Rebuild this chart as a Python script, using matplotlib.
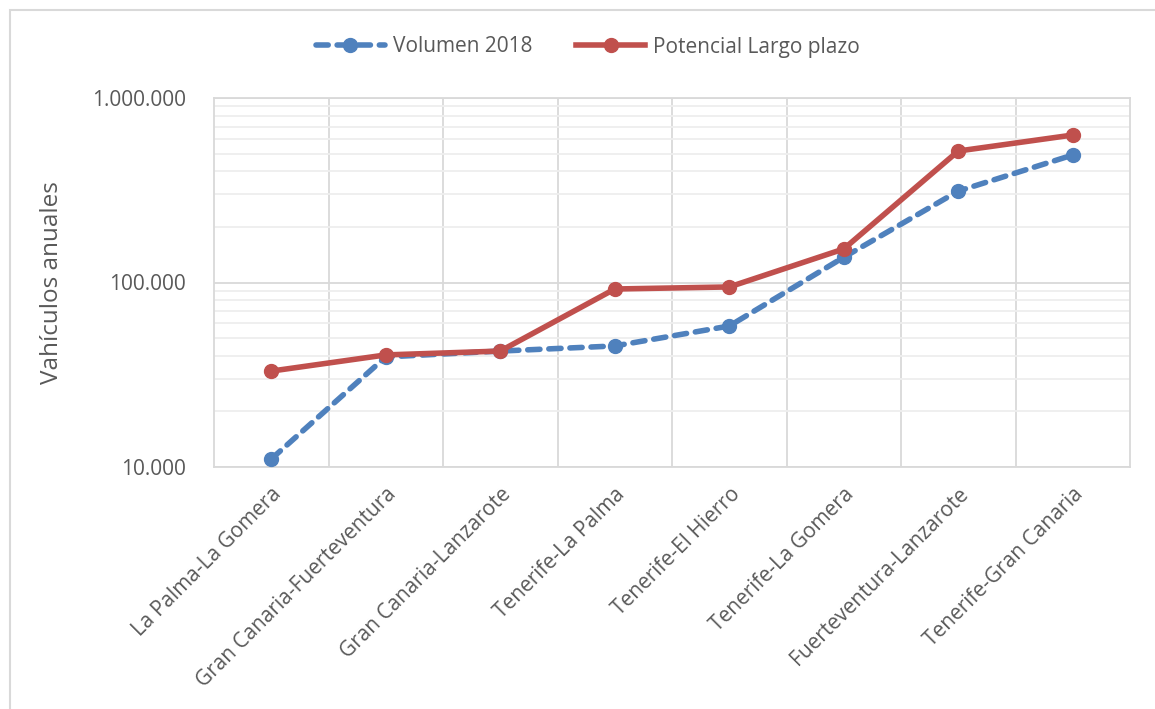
import matplotlib
matplotlib.use("Agg")
import matplotlib.pyplot as plt
from matplotlib.ticker import FixedLocator, FuncFormatter, LogLocator, NullFormatter
from matplotlib.patches import Rectangle

categories = ["La Palma-La Gomera", "Gran Canaria-Fuerteventura", "Gran Canaria-Lanzarote",
              "Tenerife-La Palma", "Tenerife-El Hierro", "Tenerife-La Gomera",
              "Fuerteventura-Lanzarote", "Tenerife-Gran Canaria"]
volumen_2018 = [11050, 39500, 42500, 45300, 58100, 137000, 313000, 491000]
potencial = [33100, 40500, 42500, 92200, 94600, 152000, 516000, 630000]
y_ticks = [10000, 100000, 1000000]
y_tick_labels = ["10.000", "100.000", "1.000.000"]

plt.rcParams['font.family'] = ['Open Sans', 'DejaVu Sans']
txt = '#595959'

fig = plt.figure(figsize=(11.55, 7.09), dpi=100)
ax = fig.add_axes([214/1155, 1-467/709, (1130-214)/1155, (467-98)/709])

x = list(range(len(categories)))
ax.plot(x, volumen_2018, color='#4F81BD', lw=4, ls=(0, (2.2, 1.6)), marker='o', ms=10,
        label='Volumen 2018', zorder=3, dash_capstyle='round')
ax.plot(x, potencial, color='#C0504D', lw=4, marker='o', ms=10,
        label='Potencial Largo plazo', zorder=4)

ax.set_yscale('log')
ax.set_ylim(10000, 1000000)
ax.set_xlim(-0.5, len(categories) - 0.5)
ax.yaxis.set_major_locator(FixedLocator(y_ticks))
ax.yaxis.set_major_formatter(FuncFormatter(lambda v, p: y_tick_labels[y_ticks.index(round(v))] if round(v) in y_ticks else ""))
ax.yaxis.set_minor_locator(LogLocator(base=10, subs=range(2, 10)))
ax.yaxis.set_minor_formatter(NullFormatter())
ax.set_xticks(x)
ax.set_xticklabels(categories, rotation=45, ha='right', va='top', rotation_mode='anchor',
                   fontsize=15, color=txt)
ax.set_xticks([i + 0.5 for i in x[:-1]], minor=True)

ax.tick_params(axis='both', which='both', length=0)
ax.tick_params(axis='y', labelsize=15, labelcolor=txt, pad=20)
ax.tick_params(axis='x', pad=12)

ax.grid(True, which='major', axis='y', color='#D9D9D9', lw=1.3)
ax.grid(True, which='minor', axis='y', color='#EEEEEE', lw=1.3)
ax.grid(True, which='minor', axis='x', color='#D9D9D9', lw=1.3)
ax.set_axisbelow(True)
for s in ax.spines.values():
    s.set_color('#D9D9D9')
    s.set_linewidth(1.3)

ax.set_ylabel('Vahículos anuales', fontsize=17.5, color=txt, labelpad=20)

leg = fig.legend(loc='center', bbox_to_anchor=(588/1155, 1-47/709), ncol=2, frameon=False,
                 fontsize=15, handlelength=3.3, columnspacing=2.1, handletextpad=0.4)
for t in leg.get_texts():
    t.set_color(txt)

fig.patches.append(Rectangle((10/1155, -0.01), 1.2, 1 - 10/709 + 0.01, transform=fig.transFigure,
                             fill=False, edgecolor='#D9D9D9', lw=1.5))

fig.savefig('out.png', dpi=100)
